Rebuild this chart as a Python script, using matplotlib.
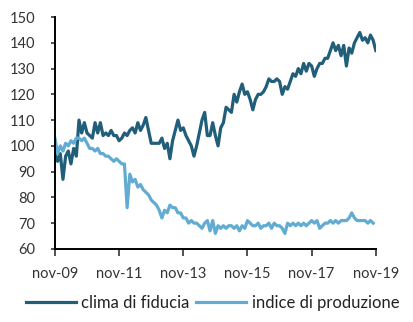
import numpy as np
import matplotlib
matplotlib.use("Agg")
import matplotlib.pyplot as plt

# monthly data, nov-09 .. nov-19
clima_fiducia = [
    97, 94, 97, 87, 96, 98, 93, 99, 96, 110,
    105, 109, 105, 104, 103, 109, 105, 109, 104, 105,
    104, 106, 104, 104, 102, 103, 105, 104, 106, 107,
    105, 109, 106, 108, 111, 106, 101, 101, 101, 101,
    103, 99, 101, 95, 102, 106, 110, 106, 107, 104,
    102, 100, 96, 100, 105, 110, 113, 104, 104, 109,
    104, 100, 107, 109, 115, 114, 113, 120, 117, 121,
    124, 120, 121, 118, 114, 118, 120, 120, 121, 123,
    126, 125, 125, 126, 125, 120, 123, 122, 125, 128,
    127, 130, 128, 132, 129, 132, 131, 127, 130, 132,
    132, 134, 134, 137, 140, 137, 139, 135, 139, 131,
    138, 136, 140, 142, 144, 141, 142, 140, 143, 141,
    137,
]
indice_produzione = [
    103, 97, 100, 98, 101, 100, 102, 101, 103, 103,
    102, 103, 101, 99, 99, 98, 99, 97, 97, 96,
    96, 95, 94, 95, 94, 93, 93, 76, 89, 86,
    87, 84, 85, 83, 82, 81, 79, 78, 77, 75,
    72, 75, 74, 77, 76, 76, 74, 74, 72, 72,
    70, 71, 70, 70, 69, 68, 70, 71, 67, 71,
    66, 69, 68, 69, 68, 69, 69, 68, 69, 67,
    69, 68, 71, 70, 69, 69, 70, 68, 69, 69,
    70, 68, 70, 69, 69, 68, 66, 70, 69, 70,
    69, 70, 69, 70, 69, 70, 71, 70, 71, 68,
    69, 70, 70, 71, 70, 71, 70, 71, 71, 71,
    72, 74, 72, 71, 71, 71, 71, 70, 71, 70,
]
tick_labels = ["nov-09", "nov-11", "nov-13", "nov-15", "nov-17", "nov-19"]

dark = "#215e7a"
light = "#62acd3"

plt.rcParams["font.family"] = ["Lato", "DejaVu Sans"]

fig = plt.figure(figsize=(4.13, 3.22), dpi=100)
ax = fig.add_axes([0.133, 0.227, 0.777, 0.72])

ax.plot(np.arange(len(clima_fiducia)), clima_fiducia, color=dark, lw=2.3,
        label="clima di fiducia")
ax.plot(np.arange(len(indice_produzione)), indice_produzione, color=light, lw=2.3,
        label="indice di produzione")

ax.set_xlim(0, 120)
ax.set_ylim(60, 150)
ax.set_xticks(np.arange(0, 121, 24))
ax.set_xticklabels(tick_labels)
ax.set_yticks(np.arange(60, 151, 10))

for s in ["top", "right"]:
    ax.spines[s].set_visible(False)
for s in ["left", "bottom"]:
    ax.spines[s].set_linewidth(1.4)
    ax.spines[s].set_color("black")

ax.tick_params(axis="x", direction="out", length=5, width=1.2, labelsize=10.5,
               pad=8, colors="#333333")
ax.tick_params(axis="y", direction="out", length=3, width=1.2, labelsize=10.5,
               pad=11, colors="#333333")

fig.legend(loc="lower center", bbox_to_anchor=(0.515, -0.012), ncol=2, frameon=False,
           fontsize=12, handlelength=3.0, handletextpad=0.35, columnspacing=0.4,
           labelcolor="#222222")

fig.savefig("out.png", dpi=100)
